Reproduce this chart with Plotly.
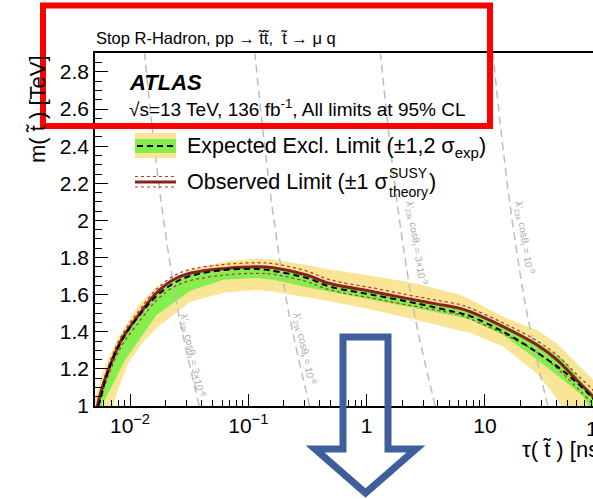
import plotly.graph_objects as go

# ---------------- data ----------------
# observed limit (tau in ns, stop mass in TeV)
obs_tau = [0.0053, 0.00558, 0.00652, 0.00844, 0.01215, 0.0168, 0.0232, 0.0321, 0.0615, 0.1178,
           0.1626, 0.312, 0.491, 1.139, 2.18, 3.66, 6.16, 7.48, 14.3, 27.4, 40.5, 59.7, 82, 94]
obs_m = [1.00, 1.06, 1.19, 1.355, 1.50, 1.61, 1.68, 1.715, 1.74, 1.75,
         1.745, 1.706, 1.66, 1.616, 1.58, 1.553, 1.526, 1.508, 1.427, 1.33, 1.25, 1.14, 1.05, 1.00]
obs_up_m = [1.00, 1.07, 1.21, 1.375, 1.52, 1.63, 1.70, 1.735, 1.762, 1.772,
            1.767, 1.727, 1.68, 1.636, 1.60, 1.573, 1.546, 1.528, 1.447, 1.352, 1.275, 1.17, 1.085, 1.03]
obs_dn_m = [1.00, 1.04, 1.16, 1.32, 1.46, 1.57, 1.64, 1.675, 1.705, 1.715,
            1.71, 1.67, 1.625, 1.58, 1.545, 1.52, 1.49, 1.47, 1.39, 1.29, 1.205, 1.10, 1.01, 0.97]

# expected limit
exp_tau = [0.0054, 0.0057, 0.00646, 0.00864, 0.0124, 0.01726, 0.024, 0.0321, 0.0615, 0.1178, 0.1546,
           0.312, 0.491, 1.139, 2.65, 6.16, 7.48, 14.3, 27.4, 52.4, 82, 92]
exp_m = [1.0, 1.05, 1.18, 1.36, 1.50, 1.60, 1.665, 1.70, 1.732, 1.738, 1.73,
         1.69, 1.643, 1.598, 1.553, 1.50, 1.485, 1.40, 1.29, 1.158, 1.04, 1.0]

# +-1 sigma expected band
g1_up_tau = [0.00516, 0.00558, 0.00652, 0.00844, 0.01215, 0.0168, 0.0232, 0.0321, 0.0615, 0.1178, 0.1626,
             0.312, 0.491, 1.139, 2.65, 6.16, 14.3, 27.4, 46.0, 67.9, 82, 96]
g1_up_m = [1.0, 1.07, 1.20, 1.37, 1.51, 1.615, 1.68, 1.715, 1.745, 1.75, 1.745,
           1.70, 1.66, 1.61, 1.565, 1.53, 1.44, 1.345, 1.25, 1.12, 1.07, 1.0]
g1_dn_tau = [0.00572, 0.00695, 0.00902, 0.01246, 0.0168, 0.0321, 0.0615, 0.1178, 0.1626, 0.312,
             0.491, 1.139, 2.65, 6.16, 7.48, 14.3, 27.4, 46.0, 67.9, 74.8]
g1_dn_m = [1.0, 1.10, 1.245, 1.37, 1.49, 1.62, 1.68, 1.69, 1.68, 1.64,
           1.616, 1.571, 1.526, 1.48, 1.465, 1.383, 1.25, 1.14, 1.05, 1.0]

# +-2 sigma expected band
g2_up_tau = [0.00487, 0.00591, 0.00792, 0.01215, 0.0168, 0.0321, 0.0615, 0.1178, 0.1626, 0.312, 0.491,
             1.139, 2.65, 6.16, 7.48, 14.3, 27.4, 40.5, 59.7, 82, 100, 115]
g2_up_m = [1.0, 1.19, 1.37, 1.553, 1.643, 1.733, 1.777, 1.795, 1.79, 1.76, 1.735,
           1.70, 1.66, 1.60, 1.575, 1.48, 1.41, 1.338, 1.23, 1.14, 1.07, 1.0]
g2_dn_tau = [0.00718, 0.00792, 0.00962, 0.01331, 0.01725, 0.0321, 0.0615, 0.1178, 0.1626, 0.312,
             0.491, 1.139, 2.65, 6.16, 7.48, 14.3, 27.4, 37.8, 44.6]
g2_dn_m = [1.0, 1.086, 1.23, 1.355, 1.427, 1.56, 1.61, 1.625, 1.615, 1.585,
           1.565, 1.517, 1.463, 1.405, 1.395, 1.32, 1.176, 1.068, 1.0]

# constant-coupling reference lines (lambda'_23k cos theta_t)
contour_m = [1.0, 1.5, 2.0, 2.5, 2.9]
contour_tau = {
    "3×10<sup>-8</sup>": [0.0385, 0.0257, 0.01925, 0.0154, 0.01328],
    "10<sup>-8</sup>": [0.33, 0.22, 0.165, 0.132, 0.1138],
    "3×10<sup>-9</sup>": [3.8, 2.53, 1.9, 1.52, 1.31],
    "10<sup>-9</sup>": [34.0, 22.7, 17.0, 13.6, 11.7],
}

x_tickvals = [0.01, 0.1, 1, 10]
x_ticktext = ["10<sup>−2</sup>", "10<sup>−1</sup>", "1", "10"]

# ---------------- styling ----------------
FONT = "Liberation Sans, Arial, Helvetica, sans-serif"
YELLOW = "#FAE597"
GREEN = "#84EE4E"
OBS = "#8A1F1F"
OBS_DOT = "#B03A3A"
GREY = "#BDBDBD"
BLUE = "#3F5E9C"

W, H = 593, 499
L, R, T, B = 95, 0, 53, 93
PW, PH = W - L - R, H - T - B


def xp(p):
    return (p - L) / PW


def yp(p):
    return (H - B - p) / PH


fig = go.Figure()

# bands
fig.add_trace(go.Scatter(x=g2_up_tau + g2_dn_tau[::-1], y=g2_up_m + g2_dn_m[::-1], fill="toself",
                         fillcolor=YELLOW, line=dict(width=0), mode="lines", hoverinfo="skip"))
fig.add_trace(go.Scatter(x=g1_up_tau + g1_dn_tau[::-1], y=g1_up_m + g1_dn_m[::-1], fill="toself",
                         fillcolor=GREEN, line=dict(width=0), mode="lines", hoverinfo="skip"))

# reference lines
for key, taus in contour_tau.items():
    fig.add_trace(go.Scatter(x=taus, y=contour_m, mode="lines", line_shape="spline",
                             line=dict(color=GREY, width=1.5, dash="8px,5px"), hoverinfo="skip"))

# observed +- theory
for arr in (obs_up_m, obs_dn_m):
    fig.add_trace(go.Scatter(x=obs_tau, y=arr, mode="lines", line_shape="spline",
                             line=dict(color=OBS_DOT, width=1.3, dash="dot"), hoverinfo="skip"))
fig.add_trace(go.Scatter(x=obs_tau, y=obs_m, mode="lines", line_shape="spline",
                         line=dict(color=OBS, width=3), hoverinfo="skip"))
fig.add_trace(go.Scatter(x=exp_tau, y=exp_m, mode="lines", line_shape="spline",
                         line=dict(color="black", width=2, dash="6px,4px"), hoverinfo="skip"))

ann = []


def text(x, y, s, size, **kw):
    d = dict(x=xp(x), y=yp(y), xref="paper", yref="paper", text=s, showarrow=False,
             font=dict(family=FONT, size=size, color=kw.pop("color", "black")),
             xanchor=kw.pop("xanchor", "left"), yanchor=kw.pop("yanchor", "middle"))
    d.update(kw)
    ann.append(d)


text(94, 38, "Stop R-Hadron, pp → t\u0303t\u0303,  t\u0303 → μ q", 16.5)
text(127, 82, "<b><i>ATLAS</i></b>", 22)
text(127, 108, "√s=13 TeV, 136 fb<sup>-1</sup>, All limits at 95% CL", 19)
text(185, 147, "Expected Excl. Limit (±1,2 σ<sub>exp</sub>)", 21.5)
text(185, 182, "Observed Limit (±1 σ", 21.5)
text(387, 173, "SUSY", 14)
text(387, 192, "theory", 14)
text(427, 182, ")", 21.5)
text(520, 449, "τ( t\u0303 ) [ns]", 22)
text(37, 109, "m( t\u0303 ) [TeV]", 22, xanchor="center", textangle=-90)
text(603, 428, "100", 21, xanchor="center")

lab_pos = [(193, 355, 78), (305, 348, 78), (416, 243, 81), (525, 237, 81)]
for (key, _), (lx, ly, ang) in zip(contour_tau.items(), lab_pos):
    text(lx, ly, "λ'<sub>23k</sub> cosθ<sub>t</sub> = " + key, 10, color="#AAAAAA",
         xanchor="center", textangle=ang)

shapes = []
# legend symbols
shapes.append(dict(type="rect", xref="paper", yref="paper", x0=xp(135), x1=xp(176), y0=yp(158), y1=yp(133),
                   fillcolor=YELLOW, line=dict(width=0)))
shapes.append(dict(type="rect", xref="paper", yref="paper", x0=xp(135), x1=xp(176), y0=yp(153), y1=yp(139),
                   fillcolor=GREEN, line=dict(width=0)))
shapes.append(dict(type="line", xref="paper", yref="paper", x0=xp(137), x1=xp(175), y0=yp(146), y1=yp(146),
                   line=dict(color="black", width=2, dash="6px,4px")))
for yy in (176.5, 187):
    shapes.append(dict(type="line", xref="paper", yref="paper", x0=xp(135), x1=xp(176), y0=yp(yy), y1=yp(yy),
                       line=dict(color=OBS_DOT, width=1.2, dash="dot")))
shapes.append(dict(type="line", xref="paper", yref="paper", x0=xp(135), x1=xp(176), y0=yp(182), y1=yp(182),
                   line=dict(color=OBS, width=3)))

# red highlight box
shapes.append(dict(type="rect", xref="paper", yref="paper", x0=xp(43), x1=xp(490), y0=yp(126), y1=yp(5.5),
                   line=dict(color="#FF0000", width=6), layer="above"))

# blue outline arrow
pts = [(343, 337), (388, 337), (388, 449), (416, 449), (365.5, 493), (315, 449), (343, 449)]
path = "M " + " L ".join(f"{xp(a):.5f},{yp(b):.5f}" for a, b in pts) + " Z"
shapes.append(dict(type="path", xref="paper", yref="paper", path=path,
                   line=dict(color=BLUE, width=7), layer="above"))

fig.update_layout(
    template="none",
    width=W, height=H,
    margin=dict(l=L, r=R, t=T, b=B, pad=0),
    paper_bgcolor="white", plot_bgcolor="white",
    showlegend=False,
    annotations=ann,
    shapes=shapes,
    xaxis=dict(type="log", range=[-2.2959, 1.9138], showline=True, linecolor="black", linewidth=1.5,
               mirror=True, ticks="inside", ticklen=12, tickwidth=1, tickcolor="black",
               tickmode="array", tickvals=x_tickvals, ticktext=x_ticktext,
               tickfont=dict(family=FONT, size=21, color="black"), showgrid=False, zeroline=False,
               minor=dict(ticks="inside", ticklen=6, tickwidth=1, tickcolor="black", dtick="D1",
                          showgrid=False)),
    yaxis=dict(range=[1, 2.902], showline=True, linecolor="black", linewidth=1.5, mirror=False,
               ticks="inside", ticklen=13, tickwidth=1, tickcolor="black", tick0=1, dtick=0.2,
               tickfont=dict(family=FONT, size=21, color="black"), showgrid=False, zeroline=False,
               minor=dict(ticks="inside", ticklen=7, tickwidth=1, tickcolor="black", tick0=1, dtick=0.05,
                          showgrid=False)),
)

fig.write_html("out.html")
